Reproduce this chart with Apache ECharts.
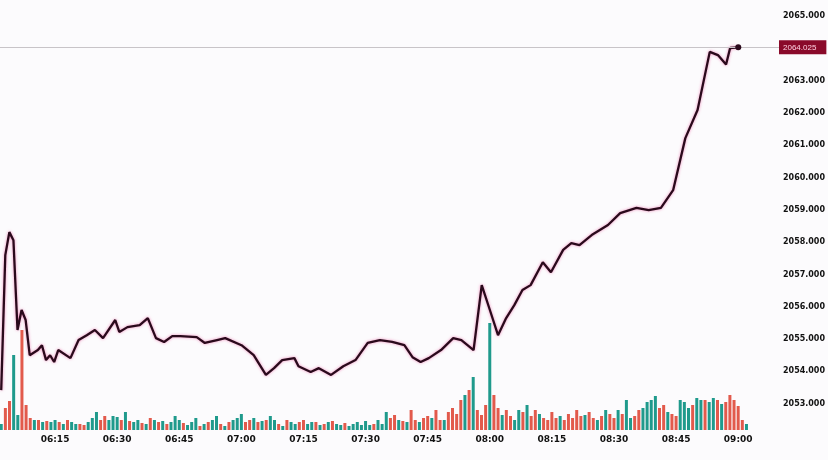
<!DOCTYPE html>
<html><head><meta charset="utf-8">
<script src="https://cdn.jsdelivr.net/npm/echarts@6/dist/echarts.min.js"></script>
<style>html,body{margin:0;padding:0;background:#fcfbfd}#c{width:828px;height:460px}</style>
</head><body><div id="c"></div>
<script>
var priceTimes=["06:02","06:03","06:04","06:05","06:06","06:07","06:08","06:09","06:11","06:12","06:13","06:14","06:15","06:16","06:19","06:21","06:23","06:25","06:27","06:30","06:31","06:33","06:36","06:38","06:40","06:42","06:44","06:46","06:50","06:52","06:55","06:57","07:01","07:04","07:07","07:09","07:11","07:14","07:15","07:18","07:20","07:23","07:26","07:29","07:32","07:35","07:38","07:41","07:43","07:45","07:47","07:50","07:53","07:55","07:58","08:00","08:02","08:04","08:06","08:08","08:10","08:12","08:15","08:17","08:20","08:22","08:24","08:27","08:31","08:34","08:38","08:41","08:44","08:47","08:50","08:53","08:56","08:58","09:00","09:01","09:03"];
var prices=[2053.42,2057.60,2058.31,2058.06,2055.28,2055.90,2055.59,2054.50,2054.66,2054.81,2054.35,2054.50,2054.29,2054.66,2054.41,2054.97,2055.12,2055.28,2055.03,2055.59,2055.22,2055.37,2055.43,2055.65,2055.03,2054.91,2055.09,2055.09,2055.06,2054.88,2054.97,2055.03,2054.81,2054.50,2053.89,2054.10,2054.35,2054.41,2054.16,2053.98,2054.10,2053.89,2054.16,2054.35,2054.88,2054.97,2054.91,2054.81,2054.44,2054.29,2054.41,2054.66,2055.03,2054.97,2054.66,2056.67,2055.90,2055.12,2055.65,2056.05,2056.52,2056.67,2057.38,2057.07,2057.76,2057.97,2057.91,2058.22,2058.53,2058.90,2059.06,2058.99,2059.06,2059.61,2061.22,2062.09,2063.89,2063.79,2063.50,2064.01,2064.03];
var lastPrice=2064.025;
var timeTicks=["06:15","06:30","06:45","07:00","07:15","07:30","07:45","08:00","08:15","08:30","08:45","09:00"];
var volStart="06:02";
// signed volume per minute: positive = up (teal), negative = down (red)
var volumes=[6,-22,-29,75,15,-100,-25,-12,10,-10,8,-9,8,
10,-8,6,-10,8,6,-6,-5,8,12,18,-10,-14,10,14,
13,-10,18,-9,8,10,-7,6,-12,10,-8,9,-6,8,14,
10,-7,5,8,12,-4,6,-8,10,14,-6,4,-8,10,12,
16,-8,-10,12,-8,9,-10,14,10,-6,4,-10,8,6,-8,
-10,6,8,-8,5,-6,8,-9,6,5,-7,4,6,8,5,
9,5,-6,10,6,18,-12,-15,10,-9,8,-20,-10,8,-12,
-14,12,-20,-10,10,-18,-22,-16,-30,35,-40,53,-20,-15,-25,
107,-35,-22,15,-20,-14,10,20,-18,25,-14,-20,16,-12,-10,
-18,-12,14,-10,-16,-12,-20,-14,15,-18,-12,10,-14,20,-16,
-12,20,-16,30,12,-14,-20,22,28,30,34,-22,-25,18,-16,
-14,30,28,22,-25,32,30,-30,28,32,-30,26,-28,-35,-30,
-24,-10,6];
function toMin(s){var p=s.split(':');return (+p[0]-6)*60+(+p[1]);}
function fmt(m){m=Math.round(m);var h=6+Math.floor(m/60),mm=m%60;return (h<10?'0':'')+h+':'+(mm<10?'0':'')+mm;}
var lineData=priceTimes.map(function(t,i){return [toMin(t),prices[i]];});
var v0=toMin(volStart);
var barData=volumes.map(function(v,i){return {value:[v0+i,Math.abs(v)],itemStyle:{color:v>=0?'#1f9a8c':'#e25a4c'}};});
var tickVals=timeTicks.map(toMin);
var XMIN=1.7,XMAX=193;
var chart=echarts.init(document.getElementById('c'));
chart.setOption({
 backgroundColor:'#fcfbfd',animation:false,
 grid:[{left:0,right:36,top:16,height:420},{left:0,right:36,bottom:30,height:110}],
 xAxis:[{type:'value',gridIndex:0,min:XMIN,max:XMAX,show:false},
  {type:'value',gridIndex:1,min:XMIN,max:XMAX,axisLine:{show:false},axisTick:{show:false},splitLine:{show:false},
   axisLabel:{customValues:tickVals,formatter:function(v){return fmt(v);},fontSize:9,fontWeight:'bold',color:'#111',fontFamily:'DejaVu Sans',margin:5}}],
 yAxis:[{type:'value',gridIndex:0,position:'right',min:2052,max:2065,interval:1,splitLine:{show:false},axisLine:{show:false},axisTick:{show:false},
   axisLabel:{showMinLabel:false,formatter:function(v){return v.toFixed(3);},fontSize:8,fontWeight:'bold',color:'#111',fontFamily:'DejaVu Sans',margin:4}},
  {type:'value',gridIndex:1,min:0,max:110,show:false}],
 series:[
  {type:'bar',xAxisIndex:1,yAxisIndex:1,data:barData,barWidth:3},
  {type:'line',xAxisIndex:0,yAxisIndex:0,data:lineData,showSymbol:false,
   lineStyle:{color:'#2a0a1c',width:2.3,shadowColor:'rgba(230,60,140,0.6)',shadowBlur:3},
   markPoint:{symbol:'circle',symbolSize:6,itemStyle:{color:'#2a0a1c'},label:{show:false},data:[{coord:lineData[lineData.length-1]}]},
   markLine:{symbol:'none',silent:true,data:[{yAxis:lastPrice}],lineStyle:{color:'#c8c4c8',type:'solid',width:1.2},
    label:{position:'end',formatter:lastPrice.toFixed(3),backgroundColor:'#8a0a2a',color:'#ffd0e0',fontSize:8,padding:[3,10,3,4],distance:0}}}
 ]
});
</script></body></html>
